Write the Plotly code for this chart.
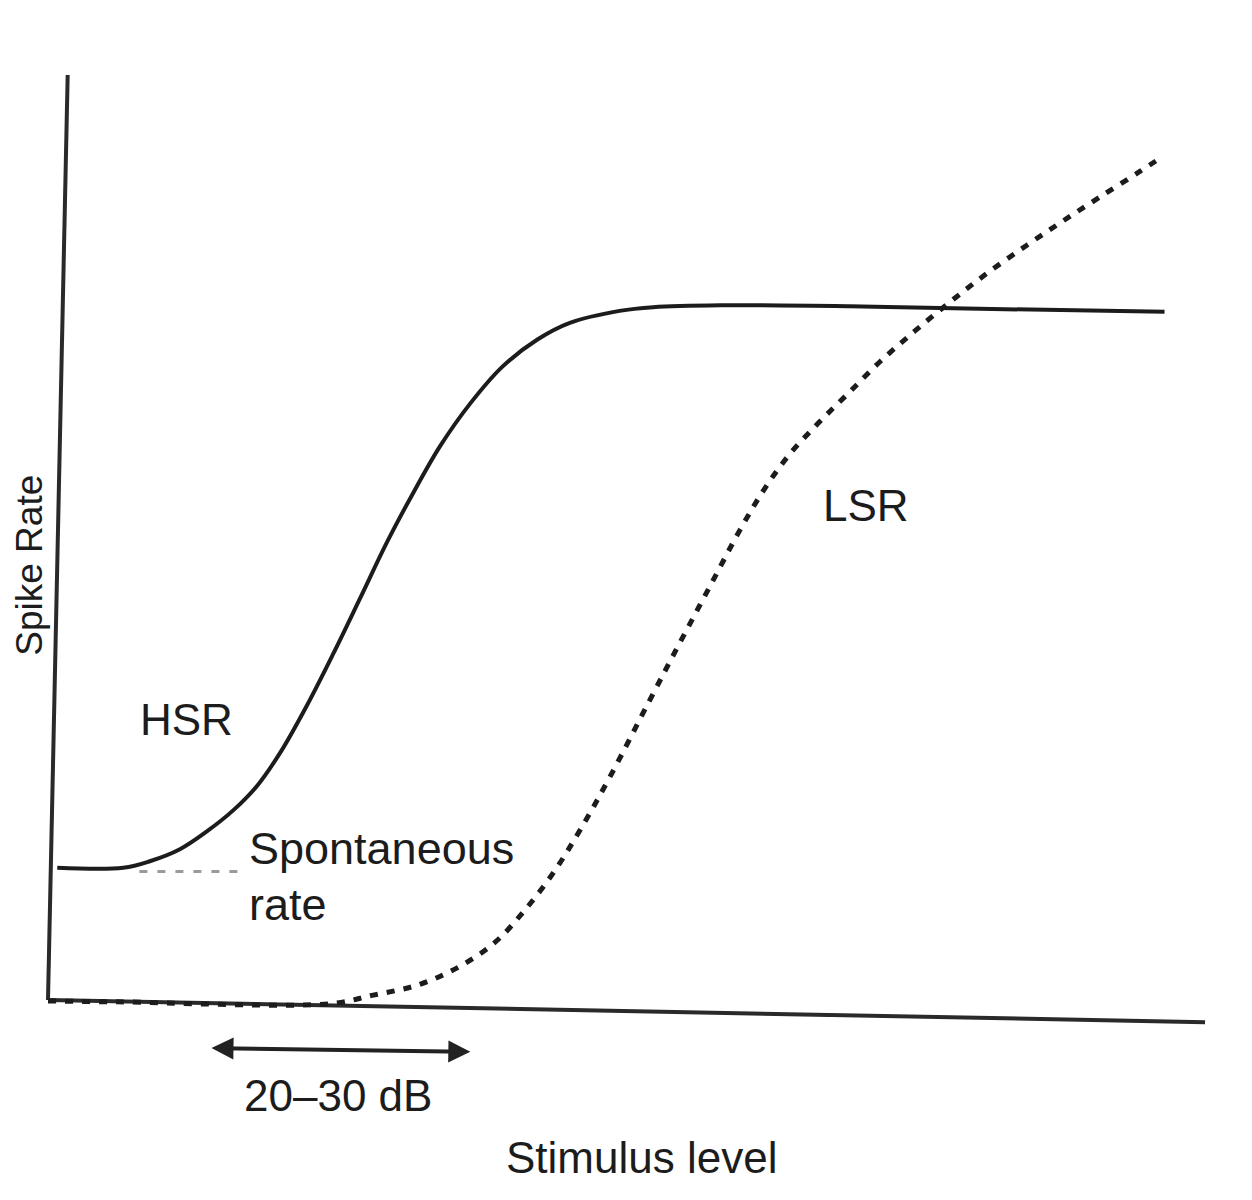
import plotly.graph_objects as go

# ---- data (stimulus level in arbitrary dB units, spike rate in arbitrary units) ----
hsr_level = [0.8, 6.5, 8.8, 11.4, 13.7, 16.0, 18.1, 20.1, 22.4, 24.6, 27.0, 29.3,
             31.6, 33.9, 36.5, 39.3, 42.3, 45.1, 49.4, 52.3, 58.1, 69.3, 77.1, 96.5]
hsr_rate = [14.3, 14.3, 15.0, 16.3, 18.2, 20.5, 23.2, 26.8, 31.9, 37.3, 43.5, 49.5,
            54.9, 59.9, 64.5, 68.5, 71.4, 73.2, 74.5, 74.9, 75.1, 75.0, 74.8, 74.4]

lsr_level = [0.0, 6.0, 24.4, 28.0, 31.9, 35.4, 38.6, 41.2, 43.7, 46.0, 48.6, 52.0,
             54.6, 57.2, 59.8, 62.0, 64.1, 66.6, 69.1, 71.9, 74.9, 78.0, 81.2, 84.6,
             87.7, 90.9, 94.4, 96.1]
lsr_rate = [-0.1, -0.2, -0.4, 0.5, 1.6, 3.5, 6.2, 9.7, 13.8, 18.4, 24.2, 32.4,
            38.6, 44.7, 50.8, 55.4, 59.0, 62.4, 65.5, 69.0, 72.3, 75.5, 78.6, 81.6,
            84.2, 86.8, 89.6, 91.0]

spont_level = [7.9, 16.6]
spont_rate = [13.9, 13.9]

# axis frame lines (hand-drawn, slightly tilted)
yaxis_line_level = [1.7, 0.0]
yaxis_line_rate = [100.0, 0.0]
xaxis_line_level = [0.0, 100.0]
xaxis_line_rate = [0.0, -2.4]

# 20-30 dB range arrow
arrow_level = [14.0, 36.5]
arrow_rate = [-5.2, -5.6]

FONT = "Liberation Sans, Arial, Helvetica, sans-serif"
INK = "#1c1c1c"

fig = go.Figure()

fig.add_trace(go.Scatter(x=yaxis_line_level, y=yaxis_line_rate, mode="lines",
                         line=dict(color="#2a2a2a", width=4), hoverinfo="skip"))
fig.add_trace(go.Scatter(x=xaxis_line_level, y=xaxis_line_rate, mode="lines",
                         line=dict(color="#2a2a2a", width=4), hoverinfo="skip"))

fig.add_trace(go.Scatter(x=spont_level, y=spont_rate, mode="lines",
                         line=dict(color="#9a9a9a", width=3, dash="8px,10px"),
                         hoverinfo="skip"))

fig.add_trace(go.Scatter(x=hsr_level, y=hsr_rate, mode="lines", name="HSR",
                         line=dict(color=INK, width=4, shape="spline", smoothing=1.0)))
fig.add_trace(go.Scatter(x=lsr_level, y=lsr_rate, mode="lines", name="LSR",
                         line=dict(color=INK, width=5, dash="8px,9px",
                                   shape="spline", smoothing=1.0)))

# double-headed arrow
fig.add_annotation(x=arrow_level[1], y=arrow_rate[1], ax=arrow_level[0], ay=arrow_rate[0],
                   xref="x", yref="y", axref="x", ayref="y", text="",
                   showarrow=True, arrowhead=2, startarrowhead=2, arrowside="end+start",
                   arrowwidth=4, arrowsize=1.1, startarrowsize=1.1, arrowcolor="#222")

def label(text, x, y, size=44, xanchor="center", angle=0):
    fig.add_annotation(x=x, y=y, xref="x", yref="y", text=text, showarrow=False,
                       xanchor=xanchor, yanchor="middle", textangle=angle,
                       font=dict(family=FONT, size=size, color=INK))

label("HSR", 12.0, 30.3)
label("LSR", 70.7, 53.5)
label("Spontaneous", 17.2, 16.4, size=45, xanchor="left")
label("rate", 17.2, 10.3, size=45, xanchor="left")
label("20–30 dB", 25.1, -10.3)
label("Stimulus level", 51.3, -17.0)
label("Spike Rate", -1.6, 47.0, size=37, angle=-90)

# ranges account for the 8px page margin around the plot div
fig.update_layout(
    width=1252, height=1200,
    margin=dict(l=0, r=0, t=0, b=0),
    paper_bgcolor="white", plot_bgcolor="white",
    showlegend=False,
    xaxis=dict(range=[-3.457, 104.75], visible=False, fixedrange=True),
    yaxis=dict(range=[-22.486, 107.243], visible=False, fixedrange=True),
)

fig.write_html("out.html")
